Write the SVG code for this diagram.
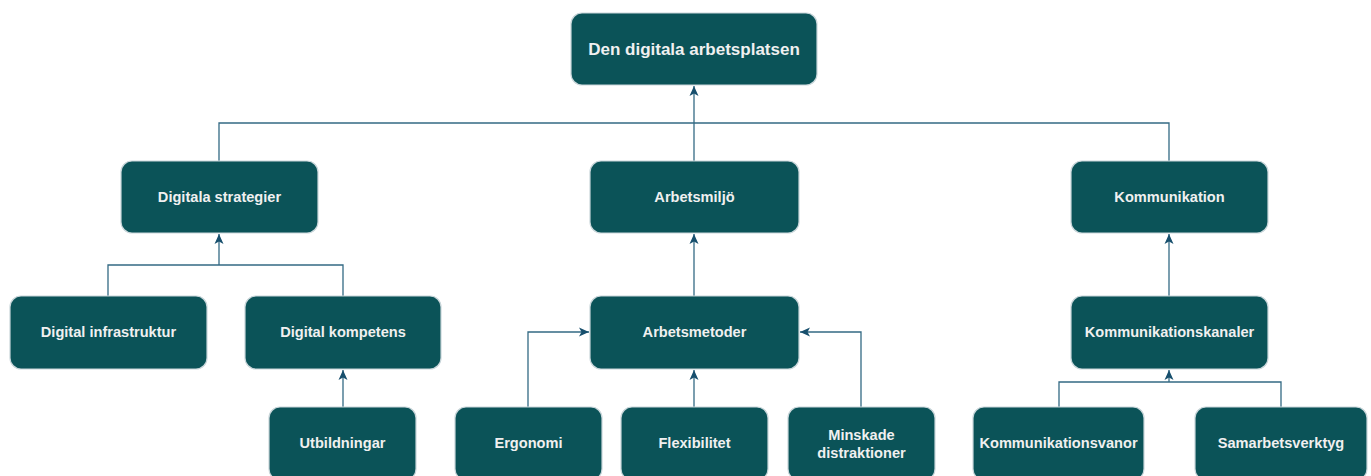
<svg xmlns="http://www.w3.org/2000/svg" width="1371" height="476" viewBox="0 0 1371 476">
<style>
.n rect{fill:#0b5358;stroke:#c9d6da;stroke-width:1.2}
.n text{fill:#f0f0f0;font-family:"Liberation Sans",Arial,sans-serif;font-weight:bold;font-size:14.6px;text-anchor:middle;dominant-baseline:central}
.c path{fill:none;stroke:#336a84;stroke-width:1.3}
</style>
<defs>
<marker id="a" viewBox="0 0 10 10" refX="10" refY="5" markerWidth="10" markerHeight="10" markerUnits="userSpaceOnUse" orient="auto">
<path d="M0,0.5 L10,5 L0,9.5 L2.5,5 Z" fill="#174f6d"/>
</marker>
</defs>
<g class="c">
<path d="M219,161 V123 H1169 V161"/>
<path d="M694,161 V86" marker-end="url(#a)"/>
<path d="M108,296 V265 H343 V296"/>
<path d="M219,265 V234" marker-end="url(#a)"/>
<path d="M694,296 V234" marker-end="url(#a)"/>
<path d="M1169,296 V234" marker-end="url(#a)"/>
<path d="M343,407 V370" marker-end="url(#a)"/>
<path d="M528,407 V332 H589" marker-end="url(#a)"/>
<path d="M694,407 V370" marker-end="url(#a)"/>
<path d="M861,407 V332 H800" marker-end="url(#a)"/>
<path d="M1059,407 V382 H1281 V407"/>
<path d="M1169,382 V370" marker-end="url(#a)"/>
</g>
<g id="n-top" class="n"><rect x="571" y="13" width="246" height="72" rx="11"/><text x="694" y="49" style="font-size:17px">Den digitala arbetsplatsen</text></g>
<g id="n-ds" class="n"><rect x="121" y="161" width="197" height="72" rx="11"/><text x="219.5" y="197">Digitala strategier</text></g>
<g id="n-am" class="n"><rect x="590" y="161" width="209" height="72" rx="11"/><text x="694.5" y="197">Arbetsmiljö</text></g>
<g id="n-ko" class="n"><rect x="1071" y="161" width="197" height="72" rx="11"/><text x="1169.5" y="197">Kommunikation</text></g>
<g id="n-di" class="n"><rect x="10" y="296" width="197" height="73" rx="11"/><text x="108.5" y="332">Digital infrastruktur</text></g>
<g id="n-dk" class="n"><rect x="245" y="296" width="196" height="73" rx="11"/><text x="343" y="332">Digital kompetens</text></g>
<g id="n-ame" class="n"><rect x="590" y="296" width="209" height="73" rx="11"/><text x="694.5" y="332">Arbetsmetoder</text></g>
<g id="n-kk" class="n"><rect x="1071" y="296" width="197" height="73" rx="11"/><text x="1169.5" y="332">Kommunikationskanaler</text></g>
<g id="n-ut" class="n"><rect x="269" y="407" width="147" height="73" rx="11"/><text x="342.5" y="443">Utbildningar</text></g>
<g id="n-er" class="n"><rect x="455" y="407" width="147" height="73" rx="11"/><text x="528.5" y="443">Ergonomi</text></g>
<g id="n-fl" class="n"><rect x="621" y="407" width="147" height="73" rx="11"/><text x="694.5" y="443">Flexibilitet</text></g>
<g id="n-md" class="n"><rect x="788" y="407" width="147" height="73" rx="11"/><text x="861.5" y="435">Minskade</text><text x="861.5" y="453">distraktioner</text></g>
<g id="n-kv" class="n"><rect x="973" y="407" width="171" height="73" rx="11"/><text x="1058.5" y="443">Kommunikationsvanor</text></g>
<g id="n-sv" class="n"><rect x="1195" y="407" width="172" height="73" rx="11"/><text x="1281" y="443">Samarbetsverktyg</text></g>
</svg>
